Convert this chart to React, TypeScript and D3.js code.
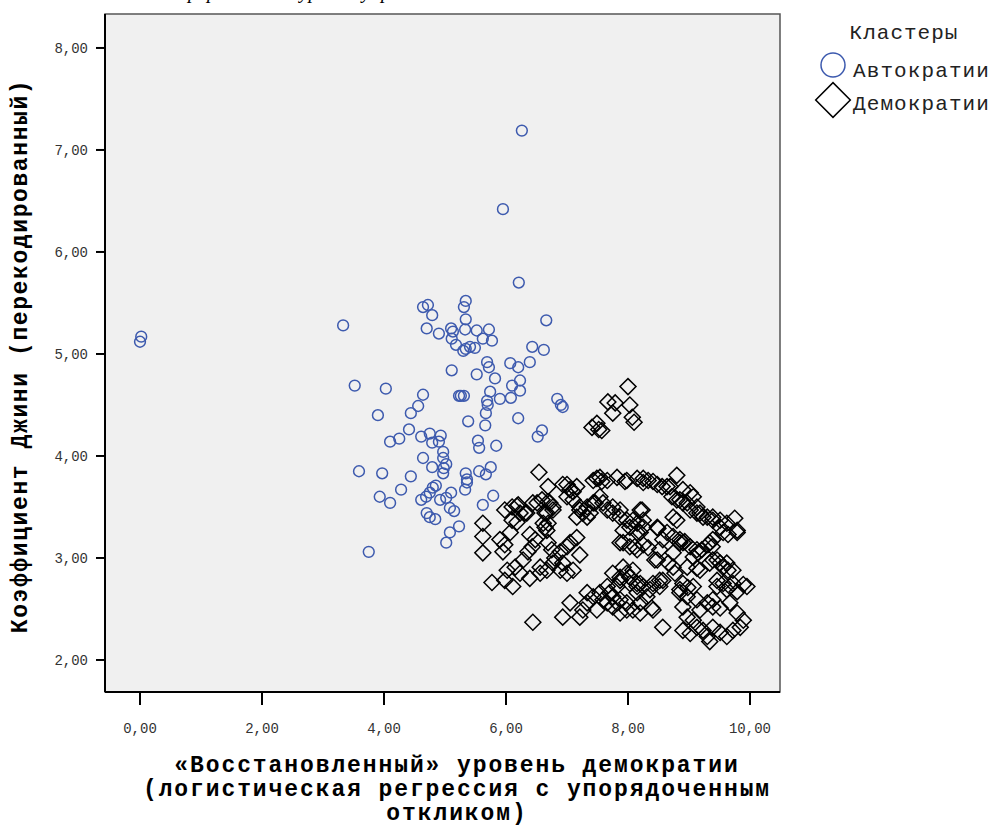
import * as d3 from "d3";

// Кластеры: [уровень демократии, коэффициент Джини]
const autocracies: [number, number][] = [
  [0.0, 5.12], [0.02, 5.17], [3.33, 5.28], [6.26, 7.19], [5.95, 6.42], [6.21, 5.7],
  [4.64, 5.46], [4.72, 5.48], [4.79, 5.38], [5.34, 5.52], [5.31, 5.46], [5.34, 5.34],
  [4.7, 5.25], [4.9, 5.2], [5.1, 5.25], [5.13, 5.22], [5.11, 5.15], [5.18, 5.09],
  [5.3, 5.03], [5.34, 5.05], [5.41, 5.07], [5.49, 5.06], [5.33, 5.24], [5.52, 5.23],
  [5.72, 5.24], [5.62, 5.15], [5.77, 5.13], [6.66, 5.33], [6.43, 5.07], [6.62, 5.04],
  [6.07, 4.91], [6.2, 4.87], [6.39, 4.92], [5.69, 4.92], [5.72, 4.87], [5.82, 4.76],
  [5.52, 4.8], [5.11, 4.84], [6.1, 4.69], [6.23, 4.74], [6.23, 4.64], [6.08, 4.57],
  [5.9, 4.56], [5.74, 4.63], [5.69, 4.54], [5.7, 4.5], [5.67, 4.42], [6.84, 4.56],
  [6.9, 4.5], [6.93, 4.48], [6.2, 4.37], [5.66, 4.3], [5.38, 4.34], [5.23, 4.59],
  [5.26, 4.59], [5.31, 4.59], [3.52, 4.69], [4.03, 4.66], [4.64, 4.6], [4.56, 4.49],
  [4.44, 4.42], [3.9, 4.4], [4.41, 4.26], [4.1, 4.14], [4.25, 4.17], [4.61, 4.19],
  [4.75, 4.22], [4.93, 4.2], [4.9, 4.14], [4.79, 4.13], [5.54, 4.15], [5.56, 4.08],
  [5.84, 4.1], [6.59, 4.25], [6.52, 4.19], [4.64, 3.98], [4.97, 4.04], [4.97, 3.98],
  [5.02, 3.92], [4.98, 3.88], [4.97, 3.83], [4.79, 3.89], [3.59, 3.85], [3.97, 3.83],
  [4.44, 3.8], [5.56, 3.85], [5.67, 3.82], [5.75, 3.89], [5.34, 3.83], [5.36, 3.77],
  [5.36, 3.74], [5.33, 3.67], [4.28, 3.67], [3.93, 3.6], [4.1, 3.54], [4.61, 3.57],
  [4.69, 3.6], [4.75, 3.64], [4.8, 3.69], [4.85, 3.71], [4.92, 3.57], [5.02, 3.59],
  [5.1, 3.64], [4.7, 3.44], [4.75, 3.4], [4.84, 3.38], [5.08, 3.49], [5.15, 3.46],
  [5.62, 3.52], [5.79, 3.61], [5.23, 3.31], [5.08, 3.25], [5.02, 3.15], [3.75, 3.06],
];

const democracies: [number, number][] = [
  [8.0, 4.68], [7.67, 4.53], [7.79, 4.52], [8.03, 4.5], [7.75, 4.42], [8.07, 4.38],
  [8.1, 4.33], [7.41, 4.28], [7.49, 4.32], [7.52, 4.26], [7.57, 4.25],
  [6.54, 3.84], [6.69, 3.7], [6.93, 3.72], [7.0, 3.72], [7.05, 3.67], [7.1, 3.65],
  [7.0, 3.6], [7.16, 3.7], [7.49, 3.78], [7.57, 3.75], [7.54, 3.79], [7.66, 3.76],
  [7.43, 3.76], [7.82, 3.79], [7.95, 3.75], [7.98, 3.76], [8.15, 3.78], [8.25, 3.78],
  [8.25, 3.74], [8.33, 3.76], [8.41, 3.75], [8.48, 3.72], [8.56, 3.7], [8.69, 3.7],
  [8.8, 3.81], [8.9, 3.67], [9.02, 3.64], [9.07, 3.6], [8.8, 3.57], [8.9, 3.54],
  [9.13, 3.5], [9.18, 3.44], [8.23, 3.47], [8.25, 3.37], [8.74, 3.4], [8.8, 3.37],
  [9.3, 3.4], [9.39, 3.37], [9.51, 3.37], [9.62, 3.34], [9.75, 3.39], [9.79, 3.27],
  [9.64, 3.23], [9.56, 3.25], [9.51, 3.3], [9.79, 3.25],
  [5.98, 3.47], [6.1, 3.5], [6.18, 3.51], [6.23, 3.44], [6.34, 3.44], [6.44, 3.54],
  [6.59, 3.57], [6.69, 3.55], [6.77, 3.5], [6.67, 3.44], [6.61, 3.34], [6.67, 3.27],
  [6.2, 3.52], [6.31, 3.44], [6.1, 3.37], [6.18, 3.35], [6.51, 3.54], [6.72, 3.54],
  [6.77, 3.47], [6.64, 3.44], [6.69, 3.34], [6.64, 3.3], [7.1, 3.57], [7.16, 3.4],
  [7.21, 3.47], [7.33, 3.5], [7.38, 3.44], [7.43, 3.54], [7.54, 3.6], [7.21, 3.5],
  [7.26, 3.44], [7.33, 3.4], [7.46, 3.54], [7.59, 3.54], [7.66, 3.47], [7.75, 3.44],
  [7.87, 3.4], [7.98, 3.37], [8.03, 3.3], [8.15, 3.34], [8.2, 3.47], [8.15, 3.25],
  [7.92, 3.27], [7.87, 3.15], [7.75, 3.5], [7.87, 3.47], [8.08, 3.37], [8.25, 3.3],
  [8.03, 3.11], [7.92, 3.15], [8.15, 3.08], [8.25, 3.13], [8.64, 3.7], [8.72, 3.6],
  [8.85, 3.57], [8.97, 3.54], [9.02, 3.47], [9.13, 3.44], [9.23, 3.4], [9.39, 3.4],
  [8.48, 3.3], [8.64, 3.25], [8.74, 3.21], [8.85, 3.18], [8.9, 3.15], [9.02, 3.11],
  [9.13, 3.08], [9.34, 3.15], [9.39, 3.18], [8.49, 3.29], [8.57, 3.18], [8.48, 2.98],
  [8.33, 3.1], [8.2, 3.25], [8.11, 3.11], [8.93, 3.16], [9.07, 3.01], [9.15, 3.05],
  [9.21, 3.08], [9.31, 3.13], [9.38, 3.11], [9.39, 2.98], [9.51, 2.95], [9.62, 2.95],
  [9.72, 2.88], [9.13, 2.9], [8.66, 2.95], [8.74, 2.91], [8.77, 2.85], [8.57, 2.78],
  [8.52, 2.72], [8.44, 2.98], [8.85, 3.15], [8.74, 3.05], [8.52, 3.08], [8.97, 2.91],
  [9.18, 2.88], [9.34, 2.95], [9.46, 2.98], [9.56, 2.91], [9.64, 2.88], [9.46, 2.78],
  [9.56, 2.75], [9.67, 2.72], [9.89, 2.74], [9.95, 2.72], [9.79, 2.67], [8.9, 2.75],
  [8.98, 2.71], [9.07, 2.72], [8.85, 2.66], [9.13, 2.59], [9.3, 2.56], [9.39, 2.52],
  [9.51, 2.51], [9.67, 2.56], [9.79, 2.46], [9.89, 2.39], [9.84, 2.32], [9.72, 2.29],
  [9.62, 2.23], [9.51, 2.27], [9.39, 2.32], [8.9, 2.52], [8.97, 2.42], [9.07, 2.39],
  [9.13, 2.32], [9.23, 2.29], [9.3, 2.23], [9.34, 2.18], [8.9, 2.29], [9.02, 2.26],
  [8.08, 2.49], [8.2, 2.46], [8.39, 2.51], [8.57, 2.32], [8.03, 2.75], [8.15, 2.72],
  [8.85, 2.69], [8.97, 2.62], [9.18, 2.49], [9.39, 2.59], [9.62, 2.69], [9.72, 2.75],
  [9.46, 2.72],
  [5.62, 3.34], [5.62, 3.21], [5.62, 3.05], [5.9, 3.18], [5.98, 3.13], [5.95, 3.06],
  [6.07, 3.25], [6.39, 3.23], [6.48, 3.18], [6.43, 3.11], [6.36, 3.06], [6.69, 3.15],
  [6.75, 3.08], [6.8, 3.0], [6.89, 3.06], [7.0, 3.11], [7.05, 3.15], [7.16, 3.2],
  [7.21, 3.03], [6.93, 2.95], [6.89, 2.88], [7.0, 2.85], [7.1, 2.88], [6.77, 2.95],
  [6.67, 2.88], [6.56, 2.91], [6.28, 2.98], [6.15, 2.91], [6.23, 2.85], [6.02, 2.88],
  [5.77, 2.76], [5.98, 2.78], [6.11, 2.72], [6.39, 2.8], [6.56, 2.85], [6.44, 2.37],
  [7.92, 2.91], [7.75, 2.85], [7.87, 2.78], [8.03, 2.81], [8.15, 2.75], [8.25, 2.72],
  [7.66, 2.72], [7.75, 2.62], [7.54, 2.66], [7.43, 2.62], [7.33, 2.56], [7.26, 2.49],
  [7.05, 2.56], [6.93, 2.42], [7.21, 2.42], [7.49, 2.49], [7.66, 2.56], [7.82, 2.56],
  [7.87, 2.59], [7.98, 2.56], [8.2, 2.56], [8.31, 2.62], [8.36, 2.69], [8.41, 2.75],
  [8.52, 2.78], [8.41, 2.49], [8.2, 2.75], [7.98, 2.85], [8.08, 2.88], [7.75, 2.52],
  [7.87, 2.46], [7.98, 2.49], [8.15, 2.66], [7.7, 2.66], [7.82, 2.72], [7.87, 2.81],
  [7.59, 2.59], [7.33, 2.66],
];

const xTicks = [0, 2, 4, 6, 8, 10];
const yTicks = [2, 3, 4, 5, 6, 7, 8];
const xTitleLines = [
  "«Восстановленный» уровень демократии",
  "(логистическая регрессия с упорядоченным",
  "откликом)",
];
const yTitle = "Коэффициент Джини (перекодированный)";
const legendTitle = "Кластеры";
const legendItems = ["Автократии", "Демократии"];

const BLUE = "#3d5aae";
const MONO = "'Liberation Mono', 'DejaVu Sans Mono', monospace";
const fmt = (v: number) => v.toFixed(2).replace(".", ",");

export default function App() {
  const left = 105, right = 780, top = 14, bottom = 692;
  const x = d3.scaleLinear().domain([-0.574, 10.492]).range([left, right]);
  const y = d3.scaleLinear().domain([1.686, 8.333]).range([bottom, top]);
  const diamond = d3.symbol().type(d3.symbolSquare).size(128)()!;
  const bigDiamond = d3.symbol().type(d3.symbolSquare).size(600)()!;

  return (
    <svg
      width={995}
      height={826}
      style={{ position: "absolute", left: 0, top: 0, background: "#fff" }}
    >
      {/* clipped caption line from the page above */}
      <text x={178} y={-2} fontFamily="'Liberation Serif', serif" fontStyle="italic" fontSize={20} fill="#000">
        прерывистые уровни управления
      </text>

      <rect x={left} y={top} width={right - left} height={bottom - top} fill="#f0f0f0" stroke="#555" strokeWidth={1.5} />

      {/* y axis */}
      <line x1={left} x2={left} y1={top} y2={bottom} stroke="#000" strokeWidth={2} />
      {yTicks.map((t) => (
        <g key={t}>
          <line x1={left - 9} x2={left} y1={y(t)} y2={y(t)} stroke="#000" strokeWidth={2} />
          <text x={88} y={y(t) + 5} textAnchor="end" fontFamily={MONO} fontSize={14} fill="#333">
            {fmt(t)}
          </text>
        </g>
      ))}

      {/* x axis */}
      <line x1={left} x2={right} y1={bottom} y2={bottom} stroke="#000" strokeWidth={2} />
      {xTicks.map((t) => (
        <g key={t}>
          <line x1={x(t)} x2={x(t)} y1={bottom} y2={bottom + 13} stroke="#000" strokeWidth={2} />
          <text x={x(t)} y={733} textAnchor="middle" fontFamily={MONO} fontSize={14} fill="#333">
            {fmt(t)}
          </text>
        </g>
      ))}

      {/* points */}
      {democracies.map((d, i) => (
        <path
          key={"d" + i}
          d={diamond}
          transform={`translate(${x(d[0])},${y(d[1])}) rotate(45)`}
          fill="none"
          stroke="#000"
          strokeWidth={1.5}
        />
      ))}
      {autocracies.map((d, i) => (
        <circle key={"a" + i} cx={x(d[0])} cy={y(d[1])} r={5.4} fill="none" stroke={BLUE} strokeWidth={1.5} />
      ))}

      {/* axis titles */}
      {xTitleLines.map((s, i) => (
        <text
          key={i}
          x={457}
          y={772 + i * 24}
          textAnchor="middle"
          fontFamily={MONO}
          fontWeight="bold"
          fontSize={23}
          letterSpacing={1.9}
          fill="#000"
        >
          {s}
        </text>
      ))}
      <text
        transform="translate(27,356) rotate(-90)"
        textAnchor="middle"
        fontFamily={MONO}
        fontWeight="bold"
        fontSize={23}
        letterSpacing={1.6}
        fill="#000"
      >
        {yTitle}
      </text>

      {/* legend */}
      <text x={904} y={39} textAnchor="middle" fontFamily={MONO} fontSize={21} letterSpacing={1} fill="#222">
        {legendTitle}
      </text>
      <circle cx={833} cy={65} r={12} fill="none" stroke={BLUE} strokeWidth={1.5} />
      <text x={853} y={77} fontFamily={MONO} fontSize={21} letterSpacing={1.1} fill="#222">
        {legendItems[0]}
      </text>
      <path d={bigDiamond} transform="translate(833,100) rotate(45)" fill="none" stroke="#000" strokeWidth={1.5} />
      <text x={853} y={110} fontFamily={MONO} fontSize={21} letterSpacing={1.1} fill="#222">
        {legendItems[1]}
      </text>
    </svg>
  );
}
